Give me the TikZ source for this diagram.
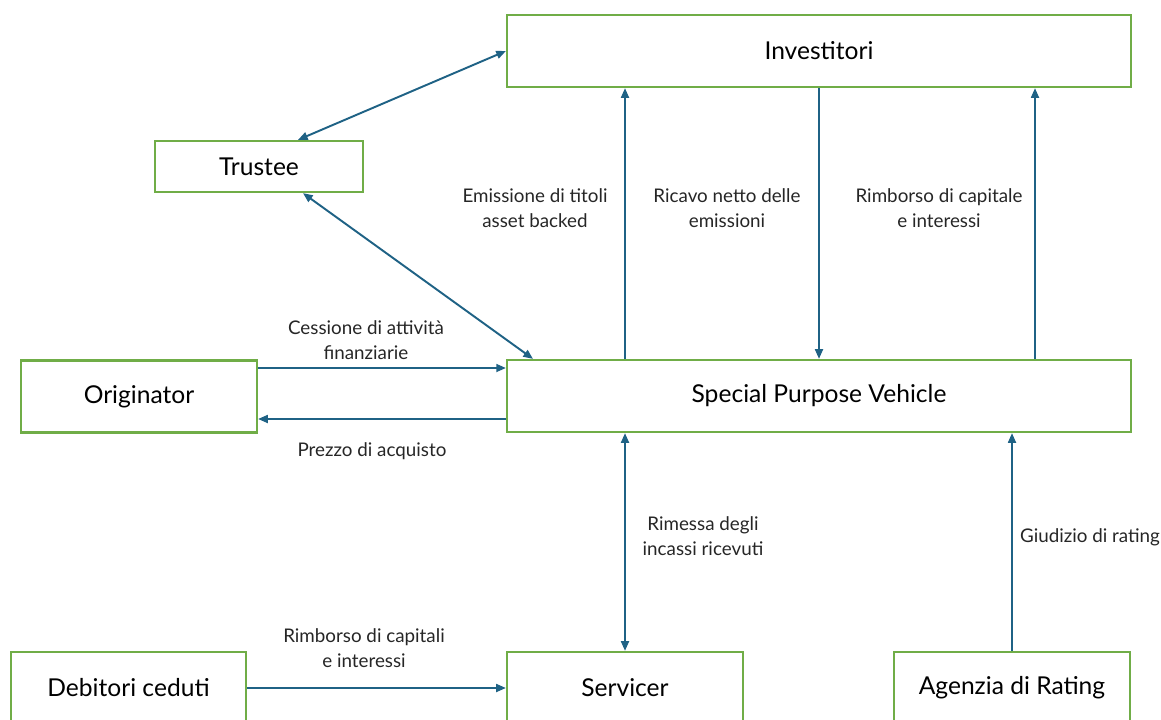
\documentclass[tikz,border=0pt]{standalone}
\usepackage{fontspec}
\setmainfont{Lato}
\usetikzlibrary{arrows.meta,positioning}
\definecolor{boxgreen}{HTML}{70AD47}
\definecolor{flowblue}{HTML}{1F6285}
\tikzset{box/.style={draw=boxgreen, line width=1.3pt, fill=white, minimum height=1.44cm,
    font=\fontsize{14}{17}\selectfont},
  flow/.style={draw=flowblue, line width=1.1pt},
  lab/.style={font=\fontsize{10.7}{14.2}\selectfont, align=center, text=black!85}
}

\begin{document}
\begin{tikzpicture}[>={Triangle[length=5.5pt,width=4.5pt]}, x=0.02cm, y=-0.02cm]
  \useasboundingbox (0,0) rectangle (1161,720);

  % boxes
  \node[box, minimum width=12.48cm] (inv) at (819,51) {Investitori};
  \node[box, minimum width=4.16cm, minimum height=1.02cm] (trustee) at (259,166.5) {Trustee};
  \node[box, minimum width=4.72cm] (orig) at (139,396.5) {Originator};
  \node[box, minimum width=12.48cm] (spv) at (819,396) {Special Purpose Vehicle};
  \node[box, minimum width=4.7cm] (deb) at (128.5,688) {Debitori ceduti};
  \node[box, minimum width=4.72cm] (serv) at (625,688) {Servicer};
  \node[box, minimum width=4.72cm] (rating) at (1012,688) {Agenzia di Rating};

  % where the connectors leave the boxes
  \coordinate (ttop) at (298,0);
  \coordinate (tbot) at (303,0);
  \coordinate (sin) at (533,0);
  \coordinate (yin) at (0,368);
  \coordinate (yout) at (0,419);
  \coordinate (xem) at (625,0);
  \coordinate (xri) at (819,0);
  \coordinate (xrc) at (1035,0);
  \coordinate (xgr) at (1012,0);

  \draw[flow,<->] (inv.west) -- (trustee.north -| ttop);
  \draw[flow,<->] (trustee.south -| tbot) -- (spv.north -| sin);
  \draw[flow,->] (orig.east |- yin) -- (spv.west |- yin);
  \draw[flow,->] (spv.west |- yout) -- (orig.east |- yout);
  \draw[flow,->] (spv.north -| xem) -- (inv.south -| xem);
  \draw[flow,->] (inv.south -| xri) -- (spv.north -| xri);
  \draw[flow,->] (spv.north -| xrc) -- (inv.south -| xrc);
  \draw[flow,<->] (spv.south -| xem) -- (serv.north);
  \draw[flow,->] (rating.north -| xgr) -- (spv.south -| xgr);
  \draw[flow,->] (deb.east) -- (serv.west);

  % labels
  \node[lab] (l1) at (535,208) {Emissione di titoli\\asset backed};
  \node[lab] (l2) at (727,208) {Ricavo netto delle\\emissioni};
  \node[lab] (l3) at (939,208) {Rimborso di capitale\\e interessi};
  \node[lab] (l4) at (366,340) {Cessione di attività\\finanziarie};
  \node[lab] (l5) at (372,451) {Prezzo di acquisto};
  \node[lab] (l6) at (703,536) {Rimessa degli\\incassi ricevuti};
  \node[lab] (l7) at (1090,537) {Giudizio di rating};
  \node[lab] (l8) at (364,648) {Rimborso di capitali\\e interessi};
\end{tikzpicture}
\end{document}
